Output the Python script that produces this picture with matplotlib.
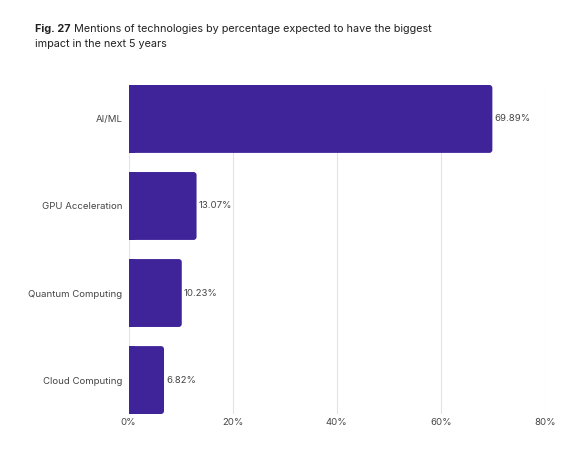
import matplotlib.pyplot as plt
from matplotlib.patches import FancyBboxPatch, Rectangle

plt.rcParams['font.family'] = ['Inter', 'DejaVu Sans']

categories = ['AI/ML', 'GPU Acceleration', 'Quantum Computing', 'Cloud Computing']
values = [69.89, 13.07, 10.23, 6.82]
xticks = [0, 20, 40, 60, 80]

bar_color = '#3f2398'
text_color = '#444444'
title_color = '#222222'
fs_label = 6.9
fs_title = 7.8

fig = plt.figure(figsize=(5.81, 4.68), dpi=100)
ax = fig.add_axes([128.5 / 581, 1 - 414 / 468, (545 - 128.5) / 581, (414 - 85) / 468])

h = 0.78
# px -> data scale for rounded corners
r_x = 3.0 / ((545 - 128.5) / 80)
r_y = 3.0 / ((414 - 85) / (3 + h))
for i, (cat, v) in enumerate(zip(categories, values)):
    y0 = i - h / 2
    ax.add_patch(FancyBboxPatch((0, y0), v, h,
                                boxstyle=f'round,pad=0,rounding_size={r_x}',
                                mutation_aspect=r_y / r_x,
                                fc=bar_color, ec='none', zorder=3))
    ax.add_patch(Rectangle((0, y0), min(v, 2 * r_x), h, fc=bar_color, ec='none', zorder=3))
    ax.text(v + 0.4, i, f'{v:.2f}%', va='center', ha='left', fontsize=fs_label, color=text_color)

ax.set_xlim(0, 80)
ax.set_ylim(3 + h / 2, -h / 2)
ax.set_yticks(range(len(categories)))
ax.set_yticklabels(categories)
ax.set_xticks(xticks)
ax.set_xticklabels([f'{t}%' for t in xticks])
ax.tick_params(axis='both', length=0, labelsize=fs_label, labelcolor=text_color)
ax.tick_params(axis='y', pad=4.5)
ax.tick_params(axis='x', pad=3)
ax.grid(axis='x', color='#e3e3e3', lw=0.8, zorder=0)
ax.set_axisbelow(True)
for s in ax.spines.values():
    s.set_visible(False)

# title: bold figure number followed by regular text
t1 = fig.text(35 / 581, 1 - 29 / 468, 'Fig. 27', fontsize=fs_title, fontweight='bold',
              color=title_color, va='center')
fig.canvas.draw()
bb = t1.get_window_extent()
x_after = (bb.x1 + 3) / fig.bbox.width
fig.text(x_after, 1 - 29 / 468, 'Mentions of technologies by percentage expected to have the biggest',
         fontsize=fs_title, color=title_color, va='center')
fig.text(35 / 581, 1 - 44 / 468, 'impact in the next 5 years', fontsize=fs_title,
         color=title_color, va='center')

fig.savefig('out.png', dpi=100)
